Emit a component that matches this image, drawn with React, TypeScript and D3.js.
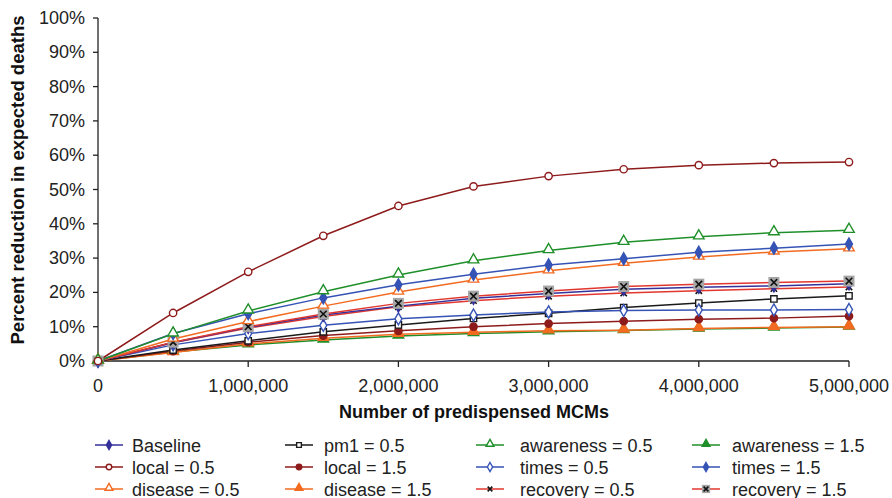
import React from 'react';
import * as d3 from 'd3';

const doses = [0, 500000, 1000000, 1500000, 2000000, 2500000, 3000000, 3500000, 4000000, 4500000, 5000000];
const xTicks = [0, 1000000, 2000000, 3000000, 4000000, 5000000];
const yTicks = [0, 10, 20, 30, 40, 50, 60, 70, 80, 90, 100];

const baseline = [0, 5.4, 9.8, 13.4, 16.0, 18.3, 19.7, 20.9, 21.5, 21.9, 22.5];
const pm1Low = [0, 3.2, 5.9, 8.5, 10.5, 12.4, 13.9, 15.6, 16.9, 18.1, 19.0];
const awarenessLow = [0, 7.9, 14.6, 20.2, 25.1, 29.2, 32.2, 34.6, 36.2, 37.4, 38.1];
const awarenessHigh = [0, 2.6, 4.7, 6.1, 7.3, 8.0, 8.5, 8.9, 9.3, 9.6, 9.9];
const localLow = [0, 14.0, 26.0, 36.5, 45.2, 50.9, 53.9, 55.9, 57.1, 57.7, 58.0];
const localHigh = [0, 2.9, 5.5, 7.4, 8.8, 10.0, 10.9, 11.6, 12.2, 12.5, 13.1];
const timesLow = [0, 4.7, 8.0, 10.4, 12.3, 13.4, 14.3, 14.7, 14.9, 14.9, 15.0];
const timesHigh = [0, 8.0, 13.8, 18.4, 22.2, 25.3, 28.0, 29.8, 31.7, 32.9, 34.1];
const diseaseLow = [0, 6.4, 11.5, 16.0, 20.1, 23.6, 26.3, 28.5, 30.3, 31.8, 32.7];
const diseaseHigh = [0, 2.5, 5.0, 6.6, 7.8, 8.4, 8.8, 9.0, 9.5, 9.8, 10.0];
const recoveryLow = [0, 5.3, 9.6, 13.0, 15.8, 17.6, 18.9, 19.8, 20.5, 21.1, 21.6];
const recoveryHigh = [0, 5.5, 10.0, 13.7, 16.8, 18.9, 20.4, 21.7, 22.4, 22.9, 23.3];

type Marker = 'diamond' | 'circle' | 'square' | 'triangle' | 'x' | 'xbox';
type Series = { name: string; values: number[]; color: string; marker: Marker; filled: boolean; markColor?: string };

// legend order, row by row
const series: Series[] = [
  { name: 'Baseline', values: baseline, color: '#35319a', marker: 'diamond', filled: true },
  { name: 'pm1 = 0.5', values: pm1Low, color: '#1a1a1a', marker: 'square', filled: false },
  { name: 'awareness = 0.5', values: awarenessLow, color: '#1f8f2a', marker: 'triangle', filled: false },
  { name: 'awareness = 1.5', values: awarenessHigh, color: '#1f8f2a', marker: 'triangle', filled: true },
  { name: 'local = 0.5', values: localLow, color: '#8e1b1b', marker: 'circle', filled: false },
  { name: 'local = 1.5', values: localHigh, color: '#8e1b1b', marker: 'circle', filled: true },
  { name: 'times = 0.5', values: timesLow, color: '#3553b5', marker: 'diamond', filled: false },
  { name: 'times = 1.5', values: timesHigh, color: '#3553b5', marker: 'diamond', filled: true },
  { name: 'disease = 0.5', values: diseaseLow, color: '#f26b21', marker: 'triangle', filled: false },
  { name: 'disease = 1.5', values: diseaseHigh, color: '#f26b21', marker: 'triangle', filled: true },
  { name: 'recovery = 0.5', values: recoveryLow, color: '#e2372f', marker: 'x', filled: true, markColor: '#111' },
  { name: 'recovery = 1.5', values: recoveryHigh, color: '#e2372f', marker: 'xbox', filled: true, markColor: '#111' },
];

const W = 892;
const H = 498;
const margin = { left: 98, right: 43, top: 18, bottom: 137 };
const font = '"Liberation Sans", Arial, Helvetica, sans-serif';

function MarkerShape({ s, x, y, small = false }: { s: Series; x: number; y: number; small?: boolean }) {
  const k = small ? 0.75 : 1;
  const fill = s.filled ? s.color : '#fff';
  if (s.marker === 'xbox') {
    const b = 11 * k;
    return (
      <g transform={`translate(${x},${y})`}>
        <rect x={-b / 2} y={-b / 2} width={b} height={b} fill="#a6a6a6" />
        <path d={d3.symbol(d3.symbolX, 30 * k * k)()!} stroke="#111" strokeWidth={1.6} fill="none" />
      </g>
    );
  }
  if (s.marker === 'x') {
    return (
      <path transform={`translate(${x},${y})`} d={d3.symbol(d3.symbolX, 28 * k * k)()!} stroke={s.markColor} strokeWidth={1.6} fill="none" />
    );
  }
  const typ = s.marker === 'diamond' ? d3.symbolDiamond
    : s.marker === 'circle' ? d3.symbolCircle
    : s.marker === 'square' ? d3.symbolSquare
    : d3.symbolTriangle;
  const size = s.marker === 'diamond' ? 42 : s.marker === 'triangle' ? 48 : s.marker === 'square' ? 40 : 42;
  const dy = s.marker === 'triangle' ? -1 : 0;
  return (
    <path transform={`translate(${x},${y + dy})`} d={d3.symbol(typ, size * k * k)()!}
      fill={fill} stroke={s.color} strokeWidth={1.4} />
  );
}

export default function App() {
  const x = d3.scaleLinear().domain([0, 5000000]).range([margin.left, W - margin.right]);
  const y = d3.scaleLinear().domain([0, 100]).range([H - margin.bottom, margin.top]);
  const line = d3.line<number>().x((_, i) => x(doses[i])).y(d => y(d));
  const fmt = d3.format(',');

  // draw order: bottom series first
  const drawOrder = [3, 9, 5, 1, 6, 10, 0, 11, 8, 7, 2, 4];

  const legCols = [95, 285, 476, 692];
  const legTextX = [132, 324, 520, 732];
  const legRows = [445, 467, 489];

  return (
    <svg width={W} height={H} style={{ position: 'absolute', left: 0, top: 0, background: '#fff' }} fontFamily={font}>
      {/* y axis */}
      <line x1={margin.left} x2={margin.left} y1={y(100)} y2={y(0)} stroke="#222" strokeWidth={1.3} />
      {yTicks.map(t => (
        <g key={t}>
          <line x1={margin.left - 5} x2={margin.left} y1={y(t)} y2={y(t)} stroke="#222" strokeWidth={1.3} />
          <text x={85} y={y(t) + 6} textAnchor="end" fontSize={18} fill="#222">{t}%</text>
        </g>
      ))}
      {/* x axis */}
      <line x1={x(0)} x2={x(5000000)} y1={y(0)} y2={y(0)} stroke="#222" strokeWidth={1.3} />
      {xTicks.map(t => (
        <g key={t}>
          <line x1={x(t)} x2={x(t)} y1={y(0)} y2={y(0) + 6} stroke="#222" strokeWidth={1.3} />
          <text x={x(t)} y={392} textAnchor="middle" fontSize={18} fill="#222">{fmt(t)}</text>
        </g>
      ))}
      <text x={474} y={418} textAnchor="middle" fontSize={18} fontWeight="bold" fill="#111">Number of predispensed MCMs</text>
      <text transform={`translate(24,180) rotate(-90)`} textAnchor="middle" fontSize={18.5} fontWeight="bold" fill="#111">
        Percent reduction in expected deaths
      </text>

      {/* series lines */}
      {drawOrder.map(i => {
        const s = series[i];
        return <path key={'l' + i} d={line(s.values)!} fill="none" stroke={s.color} strokeWidth={1.5} />;
      })}
      {drawOrder.map(i => {
        const s = series[i];
        return (
          <g key={'m' + i}>
            {s.values.map((v, j) => <MarkerShape key={j} s={s} x={x(doses[j])} y={y(v)} />)}
          </g>
        );
      })}

      {/* legend */}
      {series.map((s, i) => {
        const cx = legCols[i % 4];
        const cy = legRows[Math.floor(i / 4)];
        return (
          <g key={'g' + i}>
            <line x1={cx} x2={cx + 28} y1={cy} y2={cy} stroke={s.color} strokeWidth={1.5} />
            <MarkerShape s={s} x={cx + 14} y={cy} small />
            <text x={legTextX[i % 4]} y={cy + 6.5} fontSize={18} fill="#222">{s.name}</text>
          </g>
        );
      })}
    </svg>
  );
}
